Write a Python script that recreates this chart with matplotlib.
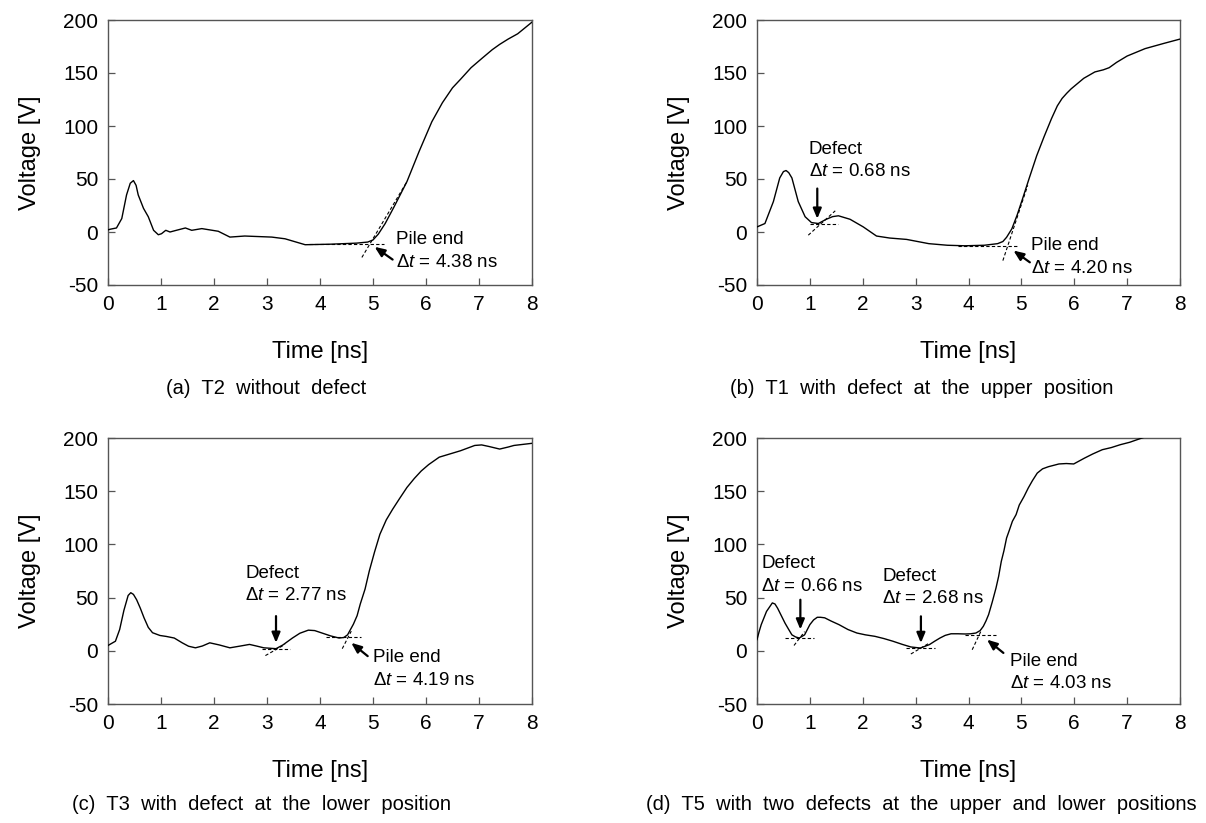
import matplotlib
matplotlib.use("Agg")
import matplotlib.pyplot as plt

plt.rcParams['font.family'] = ['Liberation Sans', 'DejaVu Sans']
plt.rcParams['mathtext.fontset'] = 'custom'
plt.rcParams['mathtext.rm'] = 'Liberation Sans'
plt.rcParams['mathtext.it'] = 'Liberation Sans:italic'
plt.rcParams['axes.unicode_minus'] = False

# ---- digitised waveforms (time [ns], voltage [V]) ----
t_a = [0.0, 0.04, 0.16, 0.26, 0.35, 0.42, 0.48, 0.53, 0.57, 0.67, 0.76, 0.86, 0.95,
       1.01, 1.09, 1.17, 1.29, 1.46, 1.58, 1.77, 2.08, 2.30, 2.58, 3.09, 3.34, 3.72,
       4.20, 4.69, 4.90, 5.00, 5.10, 5.23, 5.40, 5.64, 5.87, 6.11, 6.31, 6.50, 6.65,
       6.85, 7.06, 7.25, 7.39, 7.55, 7.73, 8.0]
v_a = [2, 2.6, 3.8, 12.7, 35, 46, 48.5, 44, 35, 22.3, 14.4, 1.6, -2.6,
       -1.6, 1.6, 0, 1.6, 3.8, 1.6, 3.2, 0.7, -4.8, -3.8, -4.8, -6.4, -12,
       -11.5, -10.5, -9.5, -7.5, -2, 8, 24, 47.5, 76, 104, 122, 136, 144,
       155, 164, 172, 177, 182, 187, 198]

t_b = [0.0, 0.15, 0.31, 0.43, 0.50, 0.55, 0.60, 0.66, 0.78, 0.91, 1.03, 1.16, 1.31,
       1.43, 1.54, 1.76, 2.01, 2.26, 2.51, 2.83, 3.25, 3.60, 3.93, 4.30, 4.55, 4.65,
       4.72, 4.82, 4.92, 5.02, 5.15, 5.29, 5.43, 5.57, 5.68, 5.77, 5.86, 5.94, 6.06,
       6.18, 6.39, 6.55, 6.66, 6.80, 7.00, 7.34, 7.70, 8.0]
v_b = [4.8, 8, 28.7, 51, 57, 58, 56, 51, 28.7, 14.4, 8.9, 8, 12,
       14.5, 15.3, 12, 4.8, -3.8, -5.7, -7, -11, -12.5, -13, -12.5, -11, -9,
       -5, 3, 16, 31, 51, 72, 90, 107, 119, 126, 131, 135, 140,
       145, 151, 153, 155, 160, 166, 173, 178, 182]

t_c = [0.0, 0.14, 0.22, 0.30, 0.38, 0.43, 0.48, 0.54, 0.61, 0.68, 0.76, 0.84, 0.98,
       1.10, 1.25, 1.40, 1.52, 1.65, 1.78, 1.92, 2.10, 2.30, 2.50, 2.67, 2.80, 2.94,
       3.17, 3.30, 3.48, 3.62, 3.78, 3.90, 4.02, 4.20, 4.36, 4.45, 4.52, 4.63, 4.70,
       4.76, 4.85, 4.93, 5.03, 5.13, 5.25, 5.37, 5.50, 5.64, 5.78, 5.91, 6.05, 6.25,
       6.45, 6.65, 6.92, 7.05, 7.19, 7.39, 7.55, 7.66, 8.0]
v_c = [5, 9, 20, 38, 52, 54.6, 53, 48, 40, 31, 22, 17, 14.4,
       13.5, 12, 7.5, 4.3, 2.8, 4.5, 7.5, 5.5, 2.8, 4.5, 6, 4.5, 2.8,
       2, 5.5, 12, 16.5, 19.4, 19, 17, 14, 12, 12.5, 15, 25, 33,
       44, 58, 75, 93, 109.5, 123, 133, 143, 153.5, 162, 169, 175, 182,
       185, 188, 193, 193.5, 192, 189.6, 191.5, 193, 195]

t_d = [0.0, 0.04, 0.08, 0.18, 0.29, 0.34, 0.39, 0.46, 0.53, 0.60, 0.66, 0.73, 0.80,
       0.90, 1.00, 1.07, 1.14, 1.20, 1.28, 1.40, 1.55, 1.72, 1.89, 2.05, 2.23, 2.40,
       2.57, 2.75, 2.91, 3.09, 3.26, 3.36, 3.46, 3.56, 3.67, 3.80, 3.94, 4.04, 4.14,
       4.22, 4.28, 4.33, 4.38, 4.45, 4.52, 4.57, 4.62, 4.67, 4.72, 4.77, 4.83, 4.90,
       4.96, 5.05, 5.13, 5.21, 5.30, 5.40, 5.51, 5.71, 5.85, 5.99, 6.19, 6.35, 6.53,
       6.70, 6.87, 7.05, 7.28, 8.0]
v_d = [10.5, 18, 24.6, 37, 45, 44, 40, 33, 26, 20, 15, 13, 12,
       15, 24.6, 29, 31.5, 31.5, 31, 28, 24.6, 20, 16.7, 15, 13.6, 11.5,
       9, 6, 3.6, 2.6, 5.8, 9, 12, 14.5, 16, 16, 15.8, 16, 16.7,
       19, 23, 28, 34, 46, 59, 70, 84, 94, 106, 113, 121.7, 128,
       137, 145, 153, 160, 167, 171, 173, 175.6, 176, 175.6, 181, 185, 189,
       191, 193.7, 196, 200, 212]

# tangent construction lines: (x0, x1, y0, y1) per line
tang_a = [(3.8, 5.2, -11, -11), (4.79, 5.64, -24, 47.5)]
tang_b = [(1.0, 1.53, 7.7, 7.7), (0.97, 1.48, -3, 20),
          (3.8, 4.92, -13, -13), (4.65, 5.12, -27, 44)]
tang_c = [(2.9, 3.44, 2, 2), (2.97, 3.34, -4.5, 6),
          (4.12, 4.77, 12.8, 12.8), (4.42, 4.59, 2, 18.5)]
tang_d = [(0.53, 1.07, 12, 12), (0.7, 0.9, 5, 18),
          (2.81, 3.36, 2.6, 2.6), (2.91, 3.26, -3, 7.3),
          (3.94, 4.52, 15.2, 15.2), (4.07, 4.25, 1, 20)]

# annotations: (label, dt, text_x, text_y, arrow_tail, arrow_head)
notes_a = [("Pile end", "4.38", 5.44, -7.5, (5.37, -26), (5.03, -14))]
notes_b = [("Defect", "0.68", 0.98, 78, (1.14, 41), (1.14, 12.5)),
           ("Pile end", "4.20", 5.19, -13, (5.16, -28.6), (4.85, -17.5))]
notes_c = [("Defect", "2.77", 2.59, 73, (3.17, 32.6), (3.17, 7.5)),
           ("Pile end", "4.19", 5.0, -6.7, (4.9, -5), (4.59, 7.5))]
notes_d = [("Defect", "0.66", 0.08, 81.6, (0.82, 48), (0.82, 20)),
           ("Defect", "2.68", 2.37, 70, (3.1, 32.4), (3.1, 7.3)),
           ("Pile end", "4.03", 4.79, -10, (4.66, -2), (4.35, 10.5))]

captions = ["(a)  T2  without  defect",
            "(b)  T1  with  defect  at  the  upper  position",
            "(c)  T3  with  defect  at  the  lower  position",
            "(d)  T5  with  two  defects  at  the  upper  and  lower  positions"]

W, H = 1206, 823
fig = plt.figure(figsize=(W / 100, H / 100), dpi=100)

# axes boxes in pixels: left, top, right, bottom
boxes = [(108, 20, 532, 285), (757, 20, 1180, 285),
         (108, 438, 532, 704), (757, 438, 1180, 704)]
cap_pos = [(266, 389), (922, 389), (262, 804), (921, 804)]

panels = [(t_a, v_a, tang_a, notes_a), (t_b, v_b, tang_b, notes_b),
          (t_c, v_c, tang_c, notes_c), (t_d, v_d, tang_d, notes_d)]

for i, (t, v, tang, notes) in enumerate(panels):
    l, tp, r, b = boxes[i]
    ax = fig.add_axes([l / W, 1 - b / H, (r - l) / W, (b - tp) / H])
    ax.plot(t, v, color='black', lw=1.0, zorder=3)
    for x0, x1, y0, y1 in tang:
        ax.plot([x0, x1], [y0, y1], color='black', lw=0.8, ls=(0, (3, 2)), zorder=2)
    for label, dt, tx, ty, tail, head in notes:
        ax.text(tx, ty, label, fontsize=13.5, ha='left', va='center')
        ax.text(tx, ty - 21, r'$\Delta t$ = ' + dt + ' ns', fontsize=13.5,
                ha='left', va='center')
        ax.annotate('', xy=head, xytext=tail,
                    arrowprops=dict(arrowstyle='-|>,head_length=0.6,head_width=0.25',
                                    color='black', lw=1.6, shrinkA=0, shrinkB=0))
    ax.set_xlim(0, 8)
    ax.set_ylim(-50, 200)
    ax.set_xticks(range(0, 9))
    ax.set_yticks(range(-50, 201, 50))
    ax.tick_params(direction='in', length=5, width=0.9, labelsize=15,
                   colors='#555555', labelcolor='black', pad=7)
    for s in ax.spines.values():
        s.set_color('#555555')
        s.set_linewidth(1.0)
    ax.set_xlabel('Time [ns]', fontsize=17, labelpad=20)
    ax.set_ylabel('Voltage [V]', fontsize=17, labelpad=16)
    cx, cy = cap_pos[i]
    fig.text(cx / W, 1 - cy / H, captions[i], fontsize=14.5,
             ha='center', va='center')

fig.savefig('out.png', dpi=100)
